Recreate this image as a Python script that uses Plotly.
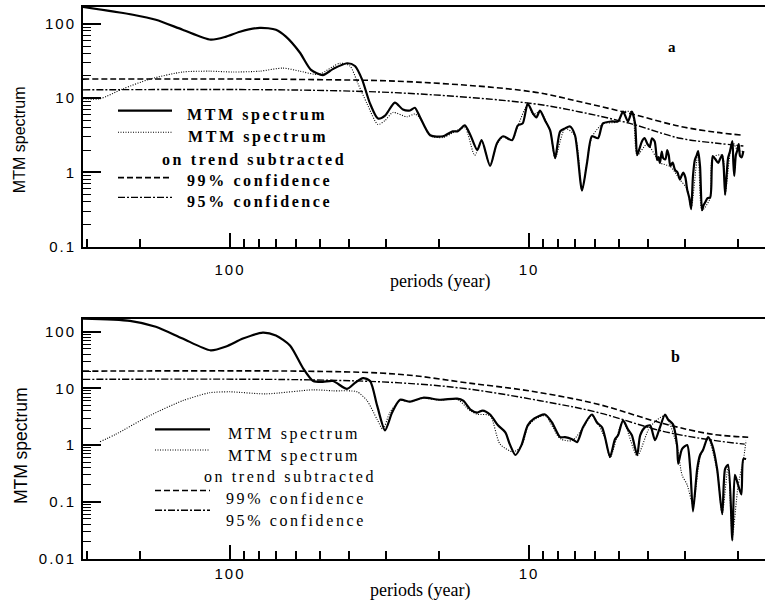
import plotly.graph_objects as go

# ---------------- data (periods in years, MTM spectrum values) ----------------
# Panel a
a_solid_period = [310, 211, 177, 144, 116, 103, 92.6, 79.4, 70.2, 65.0, 58.4, 53.6, 48.9, 45.3, 40.6,
                  38.2, 36.2, 34.0, 32.0, 30.3, 28.1, 26.4, 25.0, 24.1, 23.2, 21.4, 19.4, 18.0, 17.3,
                  16.4, 15.7, 14.9, 14.4, 13.5, 12.8, 12.2, 11.4, 10.9, 10.5, 10.1, 9.70, 9.45, 9.19,
                  8.84, 8.50, 8.18, 7.87, 7.58, 7.29, 7.02, 6.65, 6.40, 6.16, 5.88, 5.66, 5.28, 5.04,
                  4.85, 4.67, 4.53, 4.42, 4.35, 4.27, 4.19, 4.11, 4.03, 3.95, 3.88, 3.80, 3.73, 3.69,
                  3.65, 3.60, 3.56, 3.50, 3.45, 3.41, 3.37, 3.31, 3.25, 3.19, 3.13, 3.09, 3.05, 3.00,
                  2.96, 2.91, 2.87, 2.83, 2.79, 2.75, 2.72, 2.68, 2.64, 2.61, 2.58, 2.53, 2.48, 2.45,
                  2.43, 2.38, 2.33, 2.30, 2.26, 2.235, 2.21, 2.185, 2.16, 2.13, 2.09, 2.075, 2.06,
                  2.035, 2.01, 1.99, 1.97, 1.945, 1.92]
a_solid_value = [168, 132, 113, 83, 61, 67, 78, 88, 83, 67, 41, 24, 20.4, 24.5, 29.4,
                 27, 18, 8.4, 5.3, 5.8, 8.7, 7.0, 6.8, 7.4, 5.65, 3.16, 3.06, 3.57, 3.57,
                 4.28, 3.16, 2.0, 2.71, 1.22, 2.47, 3.06, 2.71, 4.28, 4.56, 8.4, 6.19, 5.5, 6.78,
                 5.0, 3.68, 1.56, 3.57, 3.91, 4.15, 3.16, 0.57, 1.34, 3.06, 2.88, 4.56, 4.85, 4.85,
                 6.58, 4.85, 6.58, 4.56, 1.71, 2.1, 2.63, 2.9, 2.47, 2.2, 2.88, 2.6, 1.47, 1.6,
                 1.34, 1.9, 1.56, 1.5, 2.0, 1.7, 1.22, 1.35, 1.08, 1.0, 0.80, 0.9, 0.99, 0.85,
                 0.59, 0.45, 0.32, 0.9, 1.47, 1.7, 1.94, 1.2, 0.31, 0.36, 0.39, 0.45, 0.46, 1.1,
                 1.66, 1.5, 1.34, 1.5, 1.71, 1.2, 0.50, 0.9, 1.56, 1.9, 2.63, 1.4, 0.90,
                 1.7, 2.0, 2.4, 1.66, 1.6, 1.94]

a_dot_period = [310, 272, 228, 185, 144, 117, 97.7, 79.4, 66.5, 58.4, 52.7, 50.0, 42.9, 39.7, 37.3,
                34.8, 32.0, 30.3, 28.5, 25.6, 24.1, 23.2, 21.4, 19.4, 18.0, 16.4, 15.2, 14.4, 13.5,
                12.8, 12.2, 11.4, 10.9, 10.1, 9.70, 9.19, 8.50, 8.18, 7.58, 7.02, 6.65, 6.16, 5.66,
                5.04, 4.85, 4.53, 4.35, 4.03, 3.65, 3.37, 3.13, 2.96, 2.87, 2.72, 2.64, 2.48, 2.43,
                2.26, 2.21, 2.09, 2.01, 1.92]
a_dot_value = [9.8, 9.8, 13.3, 18.0, 22.4, 23.0, 22.4, 23.0, 25.3, 23.0, 21.0, 21.0, 29.4, 27.0, 15.5,
               8.4, 4.4, 5.0, 6.4, 5.6, 6.1, 5.4, 3.1, 2.95, 3.4, 4.0, 1.7, 2.6, 1.25,
               2.4, 3.0, 2.7, 4.2, 8.2, 6.0, 6.6, 3.6, 1.55, 3.9, 3.1, 0.58, 3.0, 4.5,
               4.8, 6.5, 6.4, 1.7, 2.4, 1.35, 1.2, 0.8, 0.6, 0.33, 1.9, 0.31, 0.45, 1.6,
               1.7, 0.5, 2.6, 2.0, 1.9]

a_c99_period = [310, 58.4, 23.7, 9.70, 6.75, 4.60, 3.13, 2.35, 1.92]
a_c99_value = [18.0, 17.8, 16.4, 12.1, 8.9, 6.2, 4.16, 3.45, 3.16]
a_c95_period = [310, 58.4, 23.7, 9.70, 6.75, 4.60, 3.13, 2.35, 1.92]
a_c95_value = [12.9, 12.8, 11.4, 8.4, 6.5, 4.56, 2.88, 2.47, 2.26]

# Panel b
b_solid_period = [310, 216, 177, 144, 116, 103, 90.5, 77.6, 70.2, 63.0, 57.0, 52.7, 48.9, 45.3, 40.6,
                  38.2, 35.9, 34.0, 32.2, 30.3, 28.7, 27.0, 25.0, 22.6, 19.9, 17.4, 16.6, 15.7, 14.9,
                  14.3, 13.5, 12.7, 12.0, 11.6, 11.1, 10.6, 10.1, 9.6, 8.84, 8.38, 7.87, 7.58, 7.18,
                  6.91, 6.60, 6.16, 5.93, 5.70, 5.57, 5.36, 5.16, 5.04, 4.85, 4.67, 4.53, 4.35, 4.25,
                  4.10, 3.94, 3.79, 3.65, 3.51, 3.43, 3.30, 3.20, 3.17, 3.08, 2.96, 2.89, 2.83, 2.74,
                  2.68, 2.62, 2.52, 2.44, 2.35, 2.26, 2.21, 2.16, 2.09, 2.05, 2.00, 1.95, 1.92, 1.88]
b_solid_value = [170, 155, 122, 75.5, 46.8, 54.8, 75.5, 96, 85, 57, 22.8, 13.5, 13.0, 13.5, 9.8,
                 12.5, 15.2, 13.5, 4.96, 1.82, 3.75, 6.3, 5.82, 6.84, 6.3, 6.57, 6.06, 4.23, 3.75,
                 4.06, 3.46, 2.23, 1.68, 1.04, 0.67, 1.0, 2.23, 2.95, 3.46, 2.51, 1.38, 1.38, 1.27,
                 1.13, 2.06, 3.46, 2.51, 2.06, 1.38, 0.62, 1.27, 1.49, 2.72, 1.90, 1.49, 0.67, 1.49,
                 2.06, 2.23, 1.22, 2.06, 3.46, 2.83, 2.32, 1.0, 0.47, 0.85, 1.0, 0.38, 0.068, 0.38,
                 0.67, 0.82, 1.38, 1.0, 0.38, 0.061, 0.38, 0.45, 0.021, 0.30, 0.20, 0.135, 0.57, 0.57]

b_dot_period = [272, 241, 185, 144, 117, 100, 75.8, 52.7, 45.3, 37.6, 34.8, 32.2, 30.8, 29.2, 27.0,
                25.0, 22.6, 19.9, 17.4, 15.7, 14.9, 13.5, 12.5, 11.3, 10.6, 10.1, 9.6, 8.84, 7.87,
                7.18, 6.60, 6.16, 5.57, 5.36, 4.85, 4.35, 3.94, 3.51, 3.20, 3.08, 2.96, 2.83, 2.68,
                2.52, 2.35, 2.26, 2.16, 2.09, 2.00, 1.92, 1.88]
b_dot_value = [1.15, 1.55, 3.33, 6.06, 8.36, 8.69, 8.0, 9.42, 9.05, 8.69, 6.06, 2.83, 1.90, 3.75, 6.06,
               5.8, 6.7, 6.2, 6.4, 4.0, 3.5, 3.3, 1.04, 0.76, 0.95, 2.1, 2.8, 3.3, 1.3,
               1.2, 2.0, 3.3, 1.3, 0.6, 2.6, 0.65, 2.1, 3.3, 0.95, 0.3, 0.2, 0.09, 0.6,
               1.3, 0.35, 0.06, 0.42, 0.025, 0.19, 0.55, 1.2]

b_c99_period = [310, 58.0, 31.5, 23.7, 16.1, 10.0, 5.93, 3.56, 2.43, 1.85]
b_c99_value = [20.1, 20.1, 18.6, 16.5, 12.5, 9.05, 5.3, 2.4, 1.55, 1.38]
b_c95_period = [310, 58.0, 27.0, 16.1, 9.19, 5.93, 3.56, 2.43, 1.90]
b_c95_value = [14.4, 14.2, 12.5, 9.8, 6.06, 3.8, 1.75, 1.22, 1.04]

x_major = [100, 10]
x_minor = [300, 200, 90, 80, 70, 60, 50, 40, 30, 20, 9, 8, 7, 6, 5, 4, 3, 2]
ya_major = [100, 10, 1, 0.1]
yb_major = [100, 10, 1, 0.1, 0.01]
ya_labels = ["100", "10", "1", "0.1"]
yb_labels = ["100", "10", "1", "0.1", "0.01"]
x_labels = ["100", "10"]

legend_labels = ["MTM spectrum", "MTM spectrum", "on trend subtracted", "99% confidence", "95% confidence"]

# ---------------- figure ----------------
W, H = 765, 613
def px(x): return x / W
def py(y): return 1 - y / H

fig = go.Figure()

def add_panel(xa, ya, sp_, sv, dp, dv, c99p, c99v, c95p, c95v):
    fig.add_trace(go.Scatter(x=c99p, y=c99v, mode="lines", xaxis=xa, yaxis=ya,
                             line=dict(color="black", width=1.6, dash="6px,3px", shape="spline"),
                             showlegend=False))
    fig.add_trace(go.Scatter(x=c95p, y=c95v, mode="lines", xaxis=xa, yaxis=ya,
                             line=dict(color="black", width=1.4, dash="7px,2px,2px,2px", shape="spline"),
                             showlegend=False))
    fig.add_trace(go.Scatter(x=dp, y=dv, mode="lines", xaxis=xa, yaxis=ya,
                             line=dict(color="black", width=1.1, dash="1px,1.5px", shape="spline",
                                       smoothing=0.7),
                             showlegend=False))
    fig.add_trace(go.Scatter(x=sp_, y=sv, mode="lines", xaxis=xa, yaxis=ya,
                             line=dict(color="black", width=2.2, shape="spline", smoothing=0.7),
                             showlegend=False))

add_panel("x", "y", a_solid_period, a_solid_value, a_dot_period, a_dot_value,
          a_c99_period, a_c99_value, a_c95_period, a_c95_value)
add_panel("x2", "y2", b_solid_period, b_solid_value, b_dot_period, b_dot_value,
          b_c99_period, b_c99_value, b_c95_period, b_c95_value)

def sp(t, ls=2):
    return '<span style="letter-spacing:%spx">%s</span>' % (ls, t)

tickfont = dict(family="Liberation Sans, Arial", size=15, color="black")

def xaxis(dom_y_anchor, standoff):
    return dict(type="log", range=[2.4914, 0.211], domain=[83 / W, 1.0], anchor=dom_y_anchor,
                showline=True, linewidth=2, linecolor="black", mirror=True,
                ticks="inside", ticklen=14, tickwidth=1.5, tickcolor="black",
                tickmode="array", tickvals=x_major, ticktext=[sp(t) for t in x_labels],
                tickfont=tickfont, ticklabelstandoff=standoff,
                minor=dict(tickmode="array", tickvals=x_minor, ticks="inside", ticklen=8,
                           tickwidth=1.5, tickcolor="black", showgrid=False),
                showgrid=False, zeroline=False)

def yminor(majors):
    out = []
    for m in majors:
        for k in range(2, 10):
            out.append(m * k)
    return out

def yaxis(rng, dom, anchor, majors, labels):
    return dict(type="log", range=rng, domain=dom, anchor=anchor,
                showline=True, linewidth=2, linecolor="black", mirror=False,
                ticks="inside", ticklen=18, tickwidth=1.5, tickcolor="black",
                tickmode="array", tickvals=majors, ticktext=[sp(t) for t in labels],
                tickfont=tickfont, ticklabelstandoff=2,
                minor=dict(tickmode="array", tickvals=yminor(majors[1:] + [majors[-1] / 10]),
                           ticks="inside", ticklen=8, tickwidth=1.2, tickcolor="black", showgrid=False),
                showgrid=False, zeroline=False)

fig.update_layout(
    width=W, height=H, margin=dict(l=0, r=0, t=0, b=0),
    paper_bgcolor="white", plot_bgcolor="white", showlegend=False,
    xaxis=xaxis("y", 8),
    yaxis=yaxis([-1, 2.226], [py(250), py(7)], "x", ya_major, ya_labels),
    xaxis2=xaxis("y2", 0),
    yaxis2=yaxis([-2, 2.226], [py(566), py(323)], "x2", yb_major, yb_labels),
)

annotations = []
shapes = []

def add_text(x, y, text, size, family, bold=False, angle=0, ls=0):
    t = text
    if ls:
        t = sp(t, ls)
    if bold:
        t = "<b>" + t + "</b>"
    annotations.append(dict(x=px(x), y=py(y), xref="paper", yref="paper", text=t,
                            showarrow=False, xanchor="center", yanchor="middle", textangle=angle,
                            font=dict(family=family, size=size, color="black")))

serif = "Liberation Serif, Times New Roman, serif"
sans = "Liberation Sans, Arial, sans-serif"

# axis titles
add_text(19, 142, "MTM spectrum", 16, sans, angle=-90)
add_text(21, 452, "MTM spectrum", 17.5, sans, angle=-90)
add_text(440, 285, "periods (year)", 18, serif)
add_text(420, 598, "periods (year)", 18, serif)
add_text(672, 48, "a", 15, serif, bold=True)
add_text(675, 361, "b", 16, serif, bold=True)

# legends
styles = [dict(width=2.2), dict(width=1.1, dash="1px,1.5px"), None,
          dict(width=1.6, dash="6px,3px"), dict(width=1.4, dash="7px,2px,2px,2px")]

def add_legend(x0, x1, line_ys, text_x, text_ys, bold):
    li = 0
    for i, st in enumerate(styles):
        if st is None:
            continue
        shapes.append(dict(type="line", xref="paper", yref="paper", x0=px(x0), x1=px(x1),
                           y0=py(line_ys[li]), y1=py(line_ys[li]),
                           line=dict(color="black", **st)))
        li += 1
    for lab, tx, ty in zip(legend_labels, text_x, text_ys):
        add_text(tx, ty, lab, 16, serif, bold=bold, ls=2.6)

add_legend(118, 172, [112, 134, 180, 200], [257, 258, 254, 259, 259], [117, 139, 162, 183, 204], True)
add_legend(155, 210, [435, 456, 497, 517], [294, 294, 290, 296, 296], [440, 462, 483, 505, 527], False)

fig.update_layout(annotations=annotations, shapes=shapes)
fig.write_html("out.html")
